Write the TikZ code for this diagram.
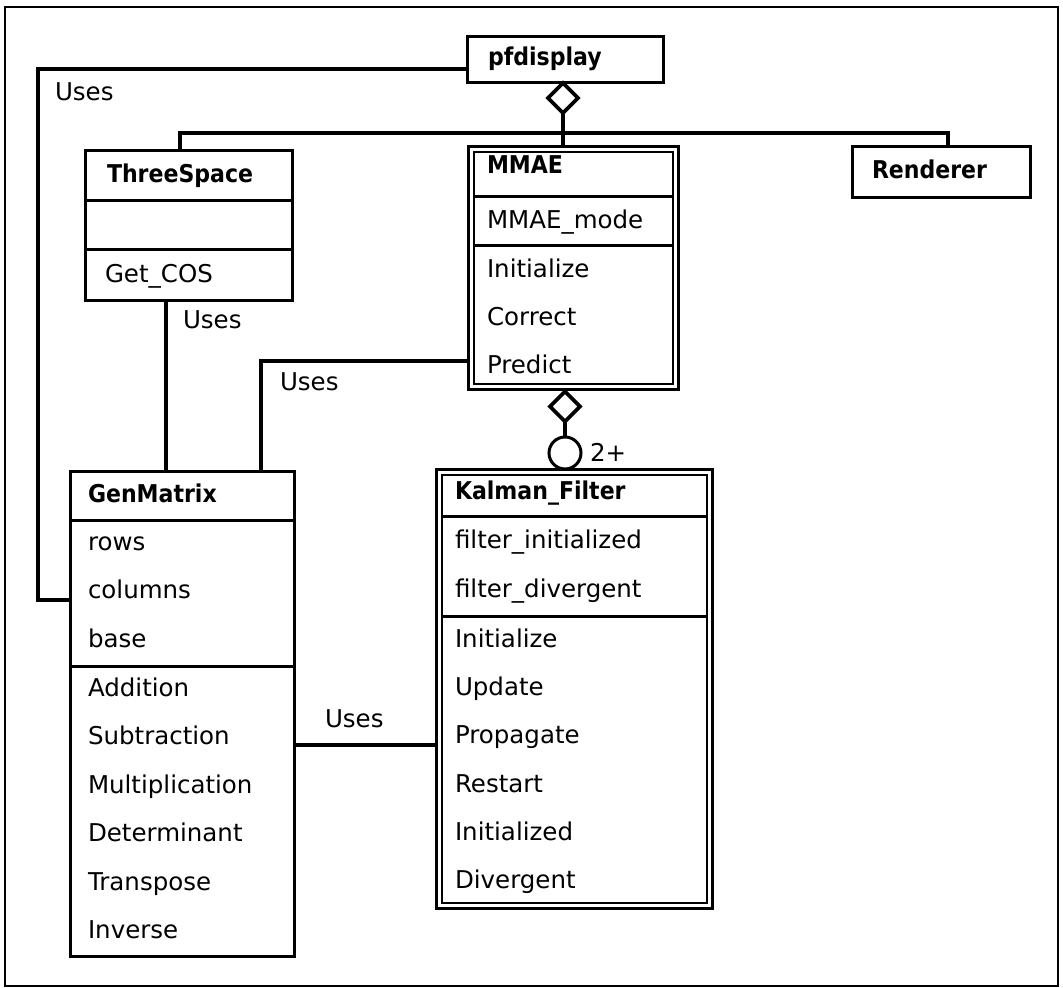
\documentclass[tikz,border=0pt]{standalone}
\usepackage{fontspec}
\setmainfont{DejaVu Sans}
\newfontfamily\classfont{DejaVu Sans Condensed}
\usetikzlibrary{shapes.geometric}
\begin{document}
\begin{tikzpicture}[x=1pt,y=-1pt,
  every node/.style={inner sep=0pt, outer sep=0pt},
  box/.style={draw, line width=3pt, rectangle, anchor=north west},
  divider/.style={line width=3pt},
  innerline/.style={line width=2pt},
  conn/.style={line width=3.2pt},
  item/.style={anchor=base west, font=\fontsize{24.5}{29}\selectfont},
  title/.style={anchor=base west, font=\fontsize{24.5}{29}\selectfont\classfont\bfseries},
  agg/.style={draw, diamond, aspect=1, line width=3.6pt, minimum size=30pt, fill=white},
]
\useasboundingbox (0,0) rectangle (1063,988);
\draw[line width=2.2pt] (5,7) rectangle (1058,986);

% class boxes
\node[box, minimum width=196pt, minimum height=46pt]  (pf)   at (467,36)  {};
\node[box, minimum width=207pt, minimum height=150pt] (ts)   at (85,150)  {};
\node[box, minimum width=210pt, minimum height=243pt] (mmae) at (468,146) {};
\node[box, minimum width=178pt, minimum height=51pt]  (rend) at (852,146) {};
\node[box, minimum width=224pt, minimum height=485pt] (gen)  at (70,471)  {};
\node[box, minimum width=276pt, minimum height=439pt] (kf)   at (436,469) {};

% inner frames of the double-bordered classes
\draw[innerline] ([shift={(5.5,5.5)}]mmae.north west) rectangle ([shift={(-5.5,-5.5)}]mmae.south east);
\draw[innerline] ([shift={(5.5,5.5)}]kf.north west) rectangle ([shift={(-5.5,-5.5)}]kf.south east);

% compartment separators
\draw[divider] (ts.west |- 0,200) -- (ts.east |- 0,200);
\draw[divider] (ts.west |- 0,249) -- (ts.east |- 0,249);
\draw[divider] (473,196) -- (673,196);
\draw[divider] (473,245) -- (673,245);
\draw[divider] (gen.west |- 0,520) -- (gen.east |- 0,520);
\draw[divider] (gen.west |- 0,666) -- (gen.east |- 0,666);
\draw[divider] (441,516) -- (707,516);
\draw[divider] (441,616) -- (707,616);

% texts
\node[title] (tpf) at (488,65) {pfdisplay};
\node[title] (tts) at (107,182) {ThreeSpace};
\node[item]  (ts1) at (105,282) {Get\_COS};
\node[title] (trend) at (872,178) {Renderer};

\node[title] (tmmae) at (487,173) {MMAE};
\node[item] (m1) at (487,228) {MMAE\_mode};
\node[item] (m2) at (487,277) {Initialize};
\node[item] (m3) at (487,325) {Correct};
\node[item] (m4) at (487,373) {Predict};

\node[title] (tgen) at (88,502) {GenMatrix};
\node[item] (g1) at (88,550) {rows};
\node[item] (g2) at (88,598) {columns};
\node[item] (g3) at (88,647) {base};
\node[item] (g4) at (88,696) {Addition};
\node[item] (g5) at (88,744) {Subtraction};
\node[item] (g6) at (88,793) {Multiplication};
\node[item] (g7) at (88,841) {Determinant};
\node[item] (g8) at (88,890) {Transpose};
\node[item] (g9) at (88,938) {Inverse};

\node[title] (tkf) at (455,499) {Kalman\_Filter};
\node[item] (k1) at (455,548) {filter\_initialized};
\node[item] (k2) at (455,597) {filter\_divergent};
\node[item] (k3) at (455,647) {Initialize};
\node[item] (k4) at (455,695) {Update};
\node[item] (k5) at (455,743) {Propagate};
\node[item] (k6) at (455,792) {Restart};
\node[item] (k7) at (455,840) {Initialized};
\node[item] (k8) at (455,888) {Divergent};

% aggregation: pfdisplay owns ThreeSpace, MMAE, Renderer
\coordinate (barL) at (180,133);
\coordinate (barR) at (948,133);
\draw[conn] (ts.north -| barL) |- (barR) -- (rend.north -| barR);
\node[agg] (d1) at (563,98) {};
\draw[conn] (d1.south) -- (d1.south |- mmae.north);

% aggregation: MMAE owns two or more Kalman filters
\node[agg] (d2) at (565,406.5) {};
\node[draw, circle, line width=3pt, minimum size=32pt, fill=white] (mult) at (565,453) {};
\draw[conn] (d2.south) -- (mult.north);
\node[item] (mlab) at (590,461) {2+};

% uses relations
\coordinate (uL) at (38,69);
\draw[conn] (pf.west |- uL) -- (uL) |- (gen.west |- 0,600);
\node[item] (u1) at (55,100) {Uses};

\coordinate (tsg) at (166,0);
\draw[conn] (ts.south -| tsg) -- (gen.north -| tsg);
\node[item] (u2) at (183,328) {Uses};

\coordinate (mg) at (261,361);
\draw[conn] (mmae.west |- mg) -- (mg) -- (gen.north -| mg);
\node[item] (u3) at (280,390) {Uses};

\draw[conn] (gen.east |- 0,745) -- (kf.west |- 0,745);
\node[item] (u4) at (325,727) {Uses};
\end{tikzpicture}
\end{document}
